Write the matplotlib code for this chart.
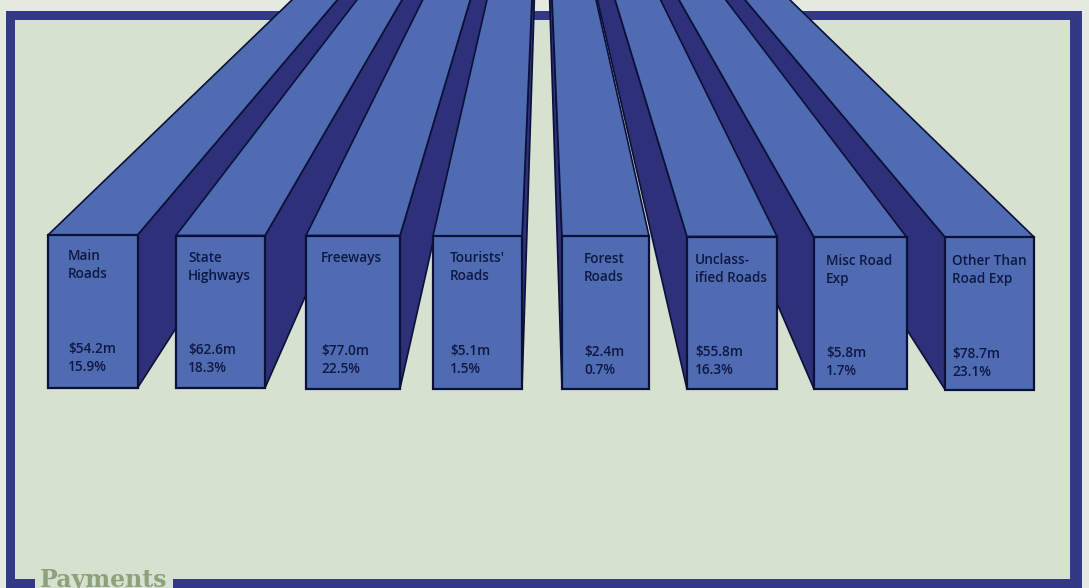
import matplotlib
matplotlib.use('Agg')
import matplotlib.pyplot as plt
from matplotlib.patches import Polygon, Rectangle

# values
categories = ['Main\nRoads', 'State\nHighways', 'Freeways', "Tourists'\nRoads",
              'Forest\nRoads', 'Unclass-\nified Roads', 'Misc Road\nExp', 'Other Than\nRoad Exp']
amounts = [54.2, 62.6, 77.0, 5.1, 2.4, 55.8, 5.8, 78.7]
shares = [15.9, 18.3, 22.5, 1.5, 0.7, 16.3, 1.7, 23.1]

# layout, in picture pixels
W, H = 1089, 588
left = [48, 176, 306, 433, 562, 687, 814, 945]
right = [137.5, 265, 400, 522, 649, 777, 906.5, 1034]
top = [235, 235.5, 235.5, 236, 236, 236.5, 237, 237]
bottom = [388, 388, 388.5, 388.5, 389, 389, 389, 389.5]
text_x = [68, 188, 321, 450, 584, 695, 826, 952]
name_y = [256, 258, 258, 258, 259, 260, 261, 261]
value_y = [349, 350, 351, 351, 352, 352, 353, 354]
vp = (542, -241)

paper = '#e4eae0'
bg = '#d7e1d0'
frame = '#343986'
face = '#4f6bb2'
side = '#2e3079'
edge = '#0b1038'
ink = '#0f1842'

fig = plt.figure(figsize=(W / 100, H / 100), dpi=100, facecolor=paper)
ax = fig.add_axes([0, 0, 1, 1])
ax.set_xlim(0, W)
ax.set_ylim(H, 0)
ax.axis('off')

# frame, with a gap in the bottom band for the heading
ax.add_patch(Rectangle((6, 11), 1076, H, fc=frame, ec='none', zorder=1))
ax.add_patch(Rectangle((15, 20), 1055, 559, fc=bg, ec='none', zorder=2))
ax.add_patch(Rectangle((35, 570), 138, 30, fc=bg, ec='none', zorder=2))
ax.text(40, 587, 'Payments', family='DejaVu Serif', weight='bold', fontsize=17,
        color='#8ba27c', ha='left', va='baseline', zorder=3)


def draw_label(x, y, lines, z):
    # lines are set one by one, the leading in the picture is wide
    for k, line in enumerate(lines):
        ax.text(x, y + k * 18.3, line, color=ink, fontsize=9.8, family='Open Sans', weight=600,
                ha='left', va='center', zorder=z)


def draw_bar(i, z):
    l, r, t, b = left[i], right[i], top[i], bottom[i]
    # side face is on the edge turned to the vanishing point
    sx = r if r < vp[0] else l
    ax.add_patch(Polygon([(sx, t), (sx, b), vp], fc=side, ec=edge, lw=1.2,
                         joinstyle='round', zorder=z))
    ax.add_patch(Polygon([(l, t), (r, t), vp], fc=face, ec=edge, lw=1.2,
                         joinstyle='round', zorder=z))
    ax.add_patch(Rectangle((l, t), r - l, b - t, fc=face, ec=edge, lw=1.6, zorder=z))
    draw_label(text_x[i], name_y[i], categories[i].split('\n'), z + 0.5)
    draw_label(text_x[i], value_y[i], [f'${amounts[i]:.1f}m', f'{shares[i]:.1f}%'], z + 0.5)


# outer bars first, the inner ones cover their side faces
for z, i in enumerate([0, 1, 2, 3, 7, 6, 5, 4]):
    draw_bar(i, 10 + z)

fig.savefig('out.png', dpi=100, facecolor=paper)
